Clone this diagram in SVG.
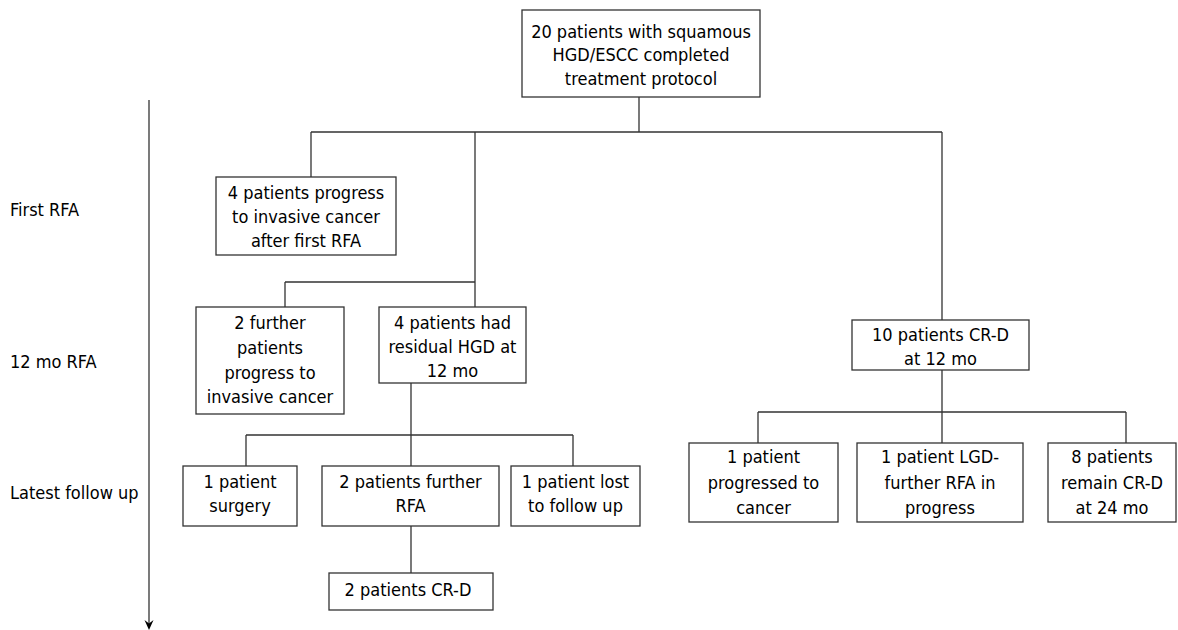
<svg xmlns="http://www.w3.org/2000/svg" width="1178" height="630" viewBox="0 0 1178 630">
<style>
.box{fill:#fff;stroke:#333;stroke-width:1.3}
.ln{stroke:#333;stroke-width:1.3;fill:none}
text{font-family:"DejaVu Sans Condensed","DejaVu Sans",sans-serif;font-stretch:condensed;font-size:18px;fill:#000}
.c{text-anchor:middle}
</style>
<rect width="1178" height="630" fill="#fff"/>
<g id="connectors">
<path class="ln" d="M639,97V132M311,132H942M311,132V177M475,132V307M942,132V320M285,282H475M285,282V307M411,383V466M246,435H573M246,435V466M573,435V466M411,526V573M942,370V443M758,412H1126M758,412V443M1126,412V443"/>
</g>
<g id="axis">
<line class="ln" x1="149" y1="100" x2="149" y2="624"/>
<path d="M144.5,620 L149,630 L153.5,620 L149,623.5 Z" fill="#000"/>
<text x="10" y="216">First RFA</text>
<text x="10" y="368">12 mo RFA</text>
<text x="10" y="499">Latest follow up</text>
</g>
<g id="n-top">
<rect class="box" x="522" y="10" width="238" height="87"/>
<text class="c" x="641" y="38">20 patients with squamous</text>
<text class="c" x="641" y="61">HGD/ESCC completed</text>
<text class="c" x="641" y="85">treatment protocol</text>
</g>
<g id="n-progress-first">
<rect class="box" x="216" y="177" width="180" height="78"/>
<text class="c" x="306" y="199">4 patients progress</text>
<text class="c" x="306" y="223">to invasive cancer</text>
<text class="c" x="306" y="247">after first RFA</text>
</g>
<g id="n-further-progress">
<rect class="box" x="196" y="307" width="148" height="107"/>
<text class="c" x="270" y="329">2 further</text>
<text class="c" x="270" y="354">patients</text>
<text class="c" x="270" y="379">progress to</text>
<text class="c" x="270" y="403">invasive cancer</text>
</g>
<g id="n-residual">
<rect class="box" x="379" y="307" width="147" height="76"/>
<text class="c" x="452.5" y="329">4 patients had</text>
<text class="c" x="452.5" y="353">residual HGD at</text>
<text class="c" x="452.5" y="377">12 mo</text>
</g>
<g id="n-crd12">
<rect class="box" x="852" y="320" width="177" height="50"/>
<text class="c" x="940.5" y="341">10 patients CR-D</text>
<text class="c" x="940.5" y="365">at 12 mo</text>
</g>
<g id="n-surgery">
<rect class="box" x="183" y="466" width="114" height="60"/>
<text class="c" x="240" y="488">1 patient</text>
<text class="c" x="240" y="512">surgery</text>
</g>
<g id="n-further-rfa">
<rect class="box" x="322" y="466" width="177" height="60"/>
<text class="c" x="410.5" y="488">2 patients further</text>
<text class="c" x="410.5" y="512">RFA</text>
</g>
<g id="n-lost">
<rect class="box" x="511" y="466" width="129" height="60"/>
<text class="c" x="575.5" y="488">1 patient lost</text>
<text class="c" x="575.5" y="512">to follow up</text>
</g>
<g id="n-crd2">
<rect class="box" x="329" y="573" width="164" height="37"/>
<text class="c" x="408" y="596">2 patients CR-D</text>
</g>
<g id="n-cancer">
<rect class="box" x="689" y="443" width="149" height="79"/>
<text class="c" x="763.5" y="463">1 patient</text>
<text class="c" x="763.5" y="489">progressed to</text>
<text class="c" x="763.5" y="514">cancer</text>
</g>
<g id="n-lgd">
<rect class="box" x="857" y="443" width="166" height="79"/>
<text class="c" x="940" y="463">1 patient LGD-</text>
<text class="c" x="940" y="489">further RFA in</text>
<text class="c" x="940" y="514">progress</text>
</g>
<g id="n-crd24">
<rect class="box" x="1048" y="443" width="128" height="79"/>
<text class="c" x="1112" y="463">8 patients</text>
<text class="c" x="1112" y="489">remain CR-D</text>
<text class="c" x="1112" y="514">at 24 mo</text>
</g>
</svg>
